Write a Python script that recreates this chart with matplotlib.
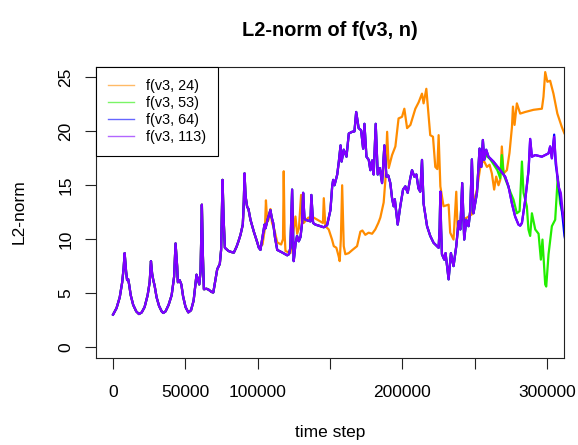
import numpy as np
import matplotlib
matplotlib.use("Agg")
import matplotlib.pyplot as plt
from matplotlib.lines import Line2D

plt.rcParams['font.family'] = ['Liberation Sans', 'DejaVu Sans']

# --- data: part shared by every series (t = time step, y = L2-norm) ---
shared_t = [0, 2400, 4600, 6300, 7300, 8000, 9000, 9700, 10400, 11100,
            12200, 13900, 16000, 17900, 19800, 21800, 23900, 25300, 26200, 27000,
            27800, 28700, 30100, 31800, 33600, 34700, 36300, 38400, 40500, 42200,
            43200, 44300, 44800, 46000, 47200, 48400, 50100, 52000, 53900, 55700,
            57000, 57700, 58800, 59600, 60500, 61400, 62100, 62800, 64600, 66200,
            68100, 69300, 70500, 72000, 73800, 74700, 75700, 76400, 77300, 79800,
            81900, 83500, 85400, 86700, 88100, 89700, 90400, 90900, 91600, 92700,
            93600, 95000, 97300, 99700, 100800]
shared_y = [3.0, 3.6, 4.6, 6.0, 7.3, 8.7, 7.0, 6.2, 6.3, 5.8,
            4.8, 3.9, 3.3, 3.05, 3.2, 3.7, 4.8, 6.0, 7.96, 6.8,
            6.2, 5.7, 4.6, 3.8, 3.3, 3.15, 3.3, 3.9, 4.8, 6.5,
            9.6, 7.5, 6.0, 6.2, 5.8, 4.7, 3.7, 3.2, 3.4, 4.3,
            5.9, 6.7, 6.2, 5.8, 7.0, 13.2, 8.5, 5.35, 5.4, 5.3,
            5.1, 5.05, 6.0, 7.2, 7.7, 9.0, 15.5, 12.0, 9.2, 8.9,
            8.8, 8.75, 9.3, 9.8, 10.4, 11.35, 13.5, 16.1, 14.0, 13.0,
            12.8, 11.8, 10.7, 9.7, 9.2]

# f(v3, 24) after it splits off
orange_t = [103300, 105000, 105700, 106600, 107500, 108800, 109900, 111300, 113500, 116200,
            117500, 118000, 118600, 119200, 122600, 124900, 126100, 127300, 128500, 130000,
            130900, 131800, 135000, 138700, 141300, 143400, 145100, 145700, 146800, 149100,
            151400, 152600, 154400, 156000, 156700, 157500, 158400, 159500, 160600, 162900,
            165500, 168700, 171000, 172400, 174400, 176700, 179100, 181300, 183400, 184800,
            187100, 188300, 189500, 190600, 192900, 195200, 197400, 199800, 201400, 203300,
            205600, 209000, 211300, 213600, 214700, 216600, 217500, 219300, 221200, 222800,
            224200, 225100, 226300, 228500, 232000, 233100, 235400, 237300, 238200, 241200,
            244700, 248100, 249200, 251600, 253900, 256100, 258500, 260300, 261900, 263500,
            264900, 266500, 267700, 268800, 270000, 272300, 274100, 275800, 276500, 277600,
            279200, 281500, 285000, 290700, 296500, 297600, 298800, 300300, 302200, 304500,
            307200, 310300, 312100, 313500]
orange_y = [9.5, 11.0, 13.6, 11.6, 11.8, 12.8, 11.5, 11.0, 9.7, 9.5,
            10.0, 16.3, 10.5, 8.9, 8.7, 10.9, 12.1, 10.5, 11.0, 14.1,
            13.0, 11.5, 12.0, 12.0, 11.8, 11.65, 11.5, 13.8, 11.2, 10.9,
            9.96, 9.35, 9.2, 8.4, 7.96, 10.0, 15.0, 9.35, 8.6, 8.7,
            9.0, 9.35, 10.7, 10.8, 10.4, 10.6, 10.5, 10.9, 11.5, 12.0,
            13.4, 15.5, 19.96, 16.6, 17.8, 18.6, 21.2, 21.35, 22.1, 20.3,
            20.6, 22.1, 22.7, 23.5, 22.6, 23.95, 22.5, 19.65, 19.5, 16.7,
            16.5, 19.65, 14.9, 13.05, 13.2, 10.6, 9.96, 14.4, 10.9, 11.8,
            12.0, 12.3, 13.3, 14.6, 16.7, 17.35, 16.7, 16.9, 16.1, 14.6,
            15.8, 15.0, 15.5, 18.6, 16.1, 16.4, 18.0, 20.4, 22.3, 20.6,
            22.6, 21.65, 21.8, 22.0, 22.1, 23.2, 25.5, 24.6, 24.7, 23.5,
            21.65, 20.4, 19.8, 19.5]

# part shared by f(v3, 53), f(v3, 64), f(v3, 113)
mid_t = [101900, 103700, 104700, 105400, 106800, 108800, 109700, 110700, 111900, 113500,
         116400, 120400, 121600, 122600, 123800, 124400, 124900, 126100, 127200, 128400,
         129600, 130700, 131400, 132300, 133000, 136500, 137100, 138300, 139900, 143400,
         145700, 148000, 150300, 151500, 152200, 153100, 155000, 156100, 157300, 158000,
         159500, 161400, 163000, 165300, 166900, 168100, 169800, 171500, 172900, 173800,
         175200, 176800, 177900, 179100, 180200, 181600, 183000, 184400, 186000, 187600,
         189000, 190300, 191700, 192900, 194000, 194800, 196800, 198600, 200500, 202100,
         203700, 205500, 206700, 208300, 209700, 211200, 212400, 213600, 214700, 217100,
         219300, 221600, 225100, 225800, 226300, 226800, 227400, 229000, 229900, 232000,
         233600, 235400, 237300, 238900, 240100, 241400, 242800, 244200, 245800, 247000,
         248100, 249200, 251600, 253400, 254600, 255700, 256600]
mid_y = [9.0, 10.5, 11.35, 11.0, 11.8, 12.7, 12.0, 11.5, 10.2, 9.0,
         8.8, 8.5, 8.6, 9.2, 14.6, 11.0, 7.96, 9.5, 10.3, 9.8,
         10.2, 11.5, 14.3, 12.0, 11.8, 11.65, 14.1, 11.5, 11.35, 11.2,
         11.1, 11.3, 12.7, 14.9, 15.5, 15.0, 16.0, 17.2, 18.7, 17.2,
         18.3, 17.65, 19.8, 19.96, 20.0, 21.8, 20.3, 20.1, 18.4, 20.7,
         17.65, 17.35, 16.4, 17.3, 16.0, 20.7, 16.0, 16.6, 15.2, 18.7,
         15.8, 15.9, 15.2, 13.8, 13.05, 13.7, 11.35, 13.05, 14.6, 14.9,
         14.3, 15.65, 16.4, 15.8, 16.0, 14.7, 14.4, 17.35, 13.3, 11.2,
         10.3, 9.66, 9.2, 11.0, 14.4, 11.0, 8.6, 8.1, 8.7, 6.27,
         8.7, 7.5, 9.35, 11.65, 10.9, 15.2, 9.96, 11.8, 11.2, 12.7,
         17.4, 12.4, 14.3, 18.4, 16.7, 19.2, 17.35]

# f(v3, 53) tail
green_t = [258000, 261100, 265700, 267700, 268800, 270000, 272300, 274600, 276900, 279200,
           281100, 282700, 283800, 286100, 287200, 288400, 289600, 291900, 294200, 295800,
           296900, 298800, 299500, 301100, 303400, 305700, 307500, 309100, 311400, 313200]
green_y = [17.8, 17.35, 16.4, 15.65, 17.8, 16.0, 15.2, 14.4, 13.65, 12.4,
           12.6, 17.2, 14.3, 13.05, 10.9, 10.3, 12.4, 10.9, 10.5, 8.1,
           9.96, 5.8, 5.6, 8.6, 11.2, 11.8, 15.8, 13.3, 12.1, 11.5]

# f(v3, 113) tail
purple_t = [258000, 259600, 263000, 267700, 271100, 273400, 275800, 278000, 280300, 281500,
            282700, 285000, 287300, 288400, 289600, 291900, 296500, 301100, 302200, 303400,
            305000, 306000, 308000, 309600, 311000, 312100, 313200]
purple_y = [18.3, 17.65, 17.2, 16.4, 15.8, 14.9, 13.3, 12.1, 11.35, 11.25,
            11.5, 13.65, 16.4, 19.3, 17.65, 17.8, 17.65, 17.96, 18.6, 17.5,
            19.5, 17.5, 14.9, 14.3, 12.4, 11.5, 11.0]

# f(v3, 64) end differs from f(v3, 113)
blue_t = purple_t[:20] + [305000, 306000, 308000, 309600, 311000, 312100, 313200]
blue_y = purple_y[:20] + [19.7, 17.0, 15.0, 13.5, 11.8, 10.3, 9.6]

labels = ["f(v3, 24)", "f(v3, 53)", "f(v3, 64)", "f(v3, 113)"]
colors = ["#FF8C00", "#22EE00", "#0000FF", "#8000FF"]

series = [
    (shared_t + orange_t, shared_y + orange_y),
    (shared_t + mid_t + green_t, shared_y + mid_y + green_y),
    (shared_t + mid_t + blue_t, shared_y + mid_y + blue_y),
    (shared_t + mid_t + purple_t, shared_y + mid_y + purple_y),
]

fig = plt.figure(figsize=(5.78, 4.45), dpi=100)
ax = fig.add_axes([0.1656, 0.1962, 0.8107, 0.6539])

for (t, y), c in zip(series, colors):
    ax.plot(t, y, color=c, linewidth=1.6)

ax.set_xlim(-12000, 312000)
ax.set_ylim(-1, 26)
ax.set_xticks([0, 50000, 100000, 150000, 200000, 250000, 300000])
ax.set_xticklabels(["0", "50000", "100000", "", "200000", "", "300000"])
ax.set_yticks([0, 5, 10, 15, 20, 25])
for lab in ax.get_yticklabels():
    lab.set_rotation(90)
    lab.set_va("center")
ax.tick_params(direction="out", length=8, width=0.8, labelsize=12.5, color="#222222")
ax.tick_params(axis="x", pad=12)
ax.tick_params(axis="y", pad=8)
for s in ax.spines.values():
    s.set_linewidth(0.8)
    s.set_color("#222222")

handles = [Line2D([0], [0], color=c, linewidth=1.0, alpha=0.6) for c in colors]
leg = ax.legend(handles, labels, loc="upper left", bbox_to_anchor=(0, 1),
                borderaxespad=0, fancybox=False, edgecolor="black", framealpha=1,
                fontsize=10.4, handlelength=1.8, handletextpad=0.8,
                labelspacing=0.2, borderpad=0.85)
leg.get_frame().set_linewidth(0.8)

fig.text(330 / 578, 1 - 30 / 445, "L2-norm of f(v3, n)", ha="center", va="center",
         fontsize=14.4, fontweight="bold")
fig.text(330 / 578, 1 - 433 / 445, "time step", ha="center", va="center", fontsize=12.5)
fig.text(19 / 578, 1 - 212 / 445, "L2-norm", ha="center", va="center", rotation=90,
         fontsize=12.5)

fig.savefig("out.png", dpi=100)
